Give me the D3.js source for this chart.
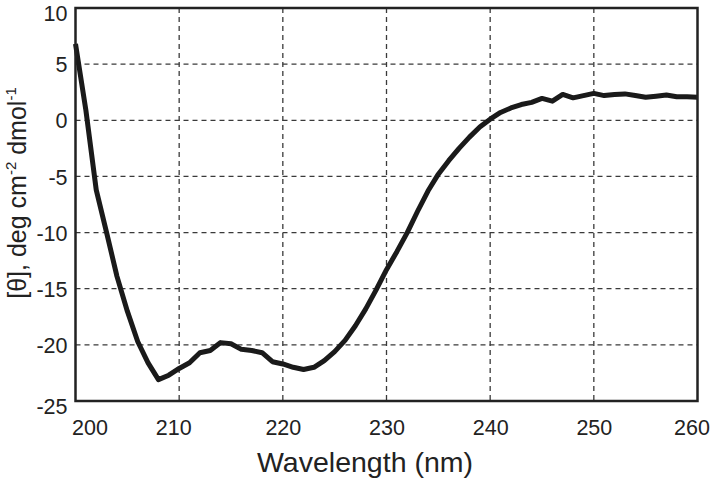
<!DOCTYPE html>
<html>
<head>
<meta charset="utf-8">
<script src="https://cdn.jsdelivr.net/npm/d3@7"></script>
<style>
  html, body { margin: 0; padding: 0; background: #fff; }
  svg { display: block; font-family: "Liberation Sans", Arial, Helvetica, sans-serif; }
</style>
</head>
<body>
<svg id="chart" width="712" height="483"></svg>
<script>
const wavelengths = [200,201,202,203,204,205,206,207,208,209,210,211,212,213,214,215,216,217,218,219,220,221,222,223,224,225,226,227,228,229,230,231,232,233,234,235,236,237,238,239,240,241,242,243,244,245,246,247,248,249,250,251,252,253,254,255,256,257,258,259,260];
const ellipticity = [6.8,0.9,-6.2,-10.0,-13.9,-17.0,-19.7,-21.6,-23.1,-22.7,-22.1,-21.6,-20.7,-20.5,-19.8,-19.9,-20.4,-20.5,-20.7,-21.5,-21.7,-22.0,-22.2,-22.0,-21.4,-20.6,-19.6,-18.3,-16.8,-15.1,-13.3,-11.7,-10.0,-8.1,-6.3,-4.8,-3.6,-2.5,-1.5,-0.6,0.1,0.7,1.1,1.4,1.6,1.95,1.7,2.3,2.0,2.2,2.4,2.2,2.3,2.35,2.2,2.05,2.15,2.25,2.1,2.1,2.05];
const xTicks = [200,210,220,230,240,250,260];
const yTicks = [10,5,0,-5,-10,-15,-20,-25];
const xTitle = "Wavelength (nm)";

const svg = d3.select("#chart");
const m = {left: 75.5, right: 697.5, top: 8, bottom: 401};
const x = d3.scaleLinear().domain([200, 260]).range([m.left, m.right]);
const y = d3.scaleLinear().domain([-25, 10]).range([m.bottom, m.top]);

// grid
const grid = svg.append("g").attr("stroke", "#3a3a3a").attr("stroke-width", 1.3).attr("stroke-dasharray", "5,4");
grid.selectAll("line.v").data(xTicks.slice(1, -1)).join("line")
  .attr("x1", d => x(d)).attr("x2", d => x(d)).attr("y1", m.top).attr("y2", m.bottom);
grid.selectAll("line.h").data(yTicks.slice(1, -1)).join("line")
  .attr("y1", d => y(d)).attr("y2", d => y(d)).attr("x1", m.left).attr("x2", m.right);

// curve
const line = d3.line().x((d, i) => x(wavelengths[i])).y(d => y(d));
svg.append("path").datum(ellipticity)
  .attr("d", line).attr("fill", "none").attr("stroke", "#1a1a1a")
  .attr("stroke-width", 5).attr("stroke-linejoin", "round").attr("stroke-linecap", "butt");

// frame
svg.append("rect").attr("x", m.left).attr("y", m.top)
  .attr("width", m.right - m.left).attr("height", m.bottom - m.top)
  .attr("fill", "none").attr("stroke", "#222").attr("stroke-width", 2.5);

// axes (labels only)
const fmt = d => String(d);
const nX = xTicks.length;
const xAxis = d3.axisBottom(x).tickValues(xTicks).tickSize(0).tickPadding(0).tickFormat(fmt);
const gx = svg.append("g").attr("transform", `translate(0,${m.bottom})`).call(xAxis);
gx.select(".domain").remove();
gx.selectAll("text").attr("font-size", 21.5).attr("fill", "#222").attr("dy", null).attr("y", 34)
  .attr("font-family", "\"Liberation Sans\", Arial, sans-serif")
  .attr("dx", (d, i) => i === 0 ? 14 : (i === 1 ? -6 : (i === nX - 1 ? -6 : 0)));

const nY = yTicks.length;
const yAxis = d3.axisLeft(y).tickValues(yTicks).tickSize(0).tickPadding(0).tickFormat(fmt);
const gy = svg.append("g").attr("transform", `translate(${m.left - 8},0)`).call(yAxis);
gy.select(".domain").remove();
gy.selectAll("text").attr("font-size", 21.5).attr("fill", "#222")
  .attr("dy", (d, i) => (i === 0 ? 5 : (i === nY - 1 ? 4.5 : 0)) + 7.7)
  .attr("font-family", "\"Liberation Sans\", Arial, sans-serif");

// x title
svg.append("text").attr("x", 365).attr("y", 472).attr("text-anchor", "middle")
  .attr("font-size", 28.5).attr("fill", "#222").text(xTitle);

// y title
const yt = svg.append("text").attr("transform", "translate(26,193) rotate(-90)")
  .attr("text-anchor", "middle").attr("font-size", 25).attr("fill", "#222");
yt.append("tspan").text("[θ], deg cm");
yt.append("tspan").attr("font-size", 15).attr("dy", -10).text("-2");
yt.append("tspan").attr("dy", 10).text(" dmol");
yt.append("tspan").attr("font-size", 15).attr("dy", -10).text("-1");
</script>
</body>
</html>
